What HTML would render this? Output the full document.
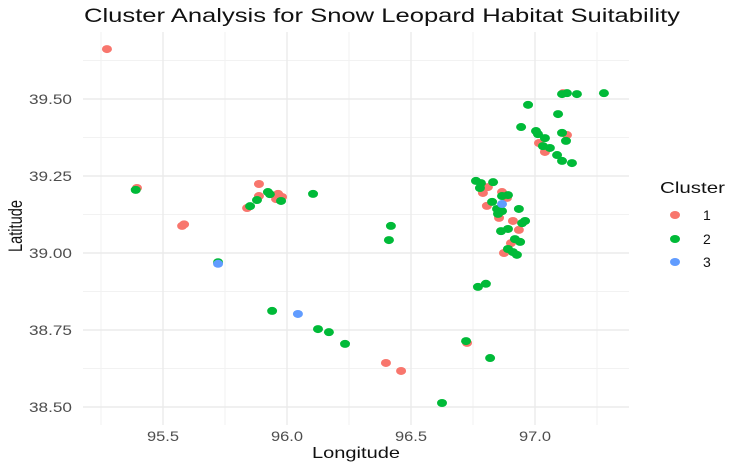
<!DOCTYPE html>
<html><head><meta charset="utf-8"><style>
body{margin:0;background:#fff;}
svg{display:block;font-family:"Liberation Sans",sans-serif;}
</style></head><body>
<svg id="chart" width="730" height="465">
<text x="84" y="22" font-size="19" fill="#111" textLength="596" lengthAdjust="spacingAndGlyphs">Cluster Analysis for Snow Leopard Habitat Suitability</text>
<g id="grid"></g>
<g id="points"></g>
<g id="axes"></g>
<text x="312" y="458" font-size="16" fill="#111" textLength="88" lengthAdjust="spacingAndGlyphs">Longitude</text>
<text transform="translate(22,252) rotate(-90)" font-size="19" fill="#111" textLength="52" lengthAdjust="spacingAndGlyphs">Latitude</text>
<g>
<text x="660" y="193" font-size="16" fill="#111" textLength="65" lengthAdjust="spacingAndGlyphs">Cluster</text>
<g><ellipse cx="675" cy="215" rx="5" ry="4" fill="#F8766D"/><text x="703" y="220" font-size="14" fill="#111">1</text></g>
<g><ellipse cx="675" cy="239" rx="5" ry="4" fill="#00BA38"/><text x="703" y="244" font-size="14" fill="#111">2</text></g>
<g><ellipse cx="675" cy="262" rx="5" ry="4" fill="#619CFF"/><text x="703" y="267" font-size="14" fill="#111">3</text></g>
</g>
</svg>
<script>
const xTicks=[95.5,96.0,96.5,97.0];
const xTickLabels=["95.5","96.0","96.5","97.0"];
const yTicks=[38.5,38.75,39.0,39.25,39.5];
const yTickLabels=["38.50","38.75","39.00","39.25","39.50"];
const xMinor=[95.25,95.75,96.25,96.75,97.25];
const yMinor=[38.625,38.875,39.125,39.375,39.625];
const cluster1Lon=[95.274,95.395,95.577,95.585,95.887,95.839,95.887,95.964,95.98,95.956,96.399,96.46,96.726,97.113,97.129,97.016,97.04,96.81,96.79,96.867,96.887,96.806,96.855,96.911,96.935,96.903,96.875];
const cluster1Lat=[39.662,39.211,39.088,39.093,39.224,39.146,39.185,39.192,39.182,39.175,38.643,38.617,38.708,39.519,39.383,39.357,39.328,39.214,39.195,39.198,39.179,39.153,39.114,39.104,39.075,39.032,39.0];
const cluster2Lon=[95.39,95.722,95.923,95.879,95.851,95.976,95.931,96.105,95.94,96.125,96.169,96.234,96.419,96.411,96.625,96.722,96.819,96.77,96.802,97.109,97.129,97.169,97.278,96.972,97.093,96.944,97.004,97.012,97.04,97.109,97.125,97.032,97.06,97.089,97.109,97.149,96.762,96.782,96.831,96.778,96.867,96.891,96.827,96.847,96.867,96.851,96.935,96.96,96.948,96.863,96.891,96.919,96.94,96.891,96.911,96.927];
const cluster2Lat=[39.205,38.97,39.198,39.172,39.152,39.169,39.191,39.192,38.812,38.753,38.743,38.705,39.088,39.042,38.513,38.714,38.659,38.89,38.9,39.516,39.519,39.516,39.519,39.481,39.451,39.409,39.396,39.386,39.373,39.39,39.364,39.347,39.341,39.318,39.299,39.292,39.234,39.227,39.23,39.211,39.185,39.188,39.166,39.143,39.136,39.127,39.143,39.104,39.097,39.071,39.078,39.045,39.036,39.013,39.003,38.994];
const cluster3Lon=[95.722,96.044,96.867];
const cluster3Lat=[38.965,38.802,39.159];
const NS="http://www.w3.org/2000/svg";
const PX0=83,PX1=629,PY0=32,PY1=425;
function xs(v){return 163+(v-95.5)*248;}
function ys(v){return 253-(v-39.0)*308;}
function mk(tag,attrs,parent){const e=document.createElementNS(NS,tag);for(const k in attrs)e.setAttribute(k,attrs[k]);parent.appendChild(e);return e;}
const grid=document.getElementById('grid'),axes=document.getElementById('axes'),pts=document.getElementById('points');
xMinor.forEach(v=>{const l=mk('line',{x1:xs(v),x2:xs(v),y1:PY0,y2:PY1,stroke:'#f2f2f2','stroke-width':1},grid);

});
yMinor.forEach(v=>{const l=mk('line',{x1:PX0,x2:PX1,y1:ys(v),y2:ys(v),stroke:'#f2f2f2','stroke-width':1},grid);

});
xTicks.forEach((v,i)=>{const l=mk('line',{x1:xs(v),x2:xs(v),y1:PY0,y2:PY1,stroke:'#ebebeb','stroke-width':1.4},grid);


const t=mk('text',{x:xs(v)-16,y:441,'font-size':14,fill:'#4d4d4d',textLength:32,lengthAdjust:'spacingAndGlyphs'},axes);t.textContent=xTickLabels[i];

});
yTicks.forEach((v,i)=>{const l=mk('line',{x1:PX0,x2:PX1,y1:ys(v),y2:ys(v),stroke:'#ebebeb','stroke-width':1.4},grid);


const t=mk('text',{x:29,y:ys(v)+5,'font-size':14,fill:'#4d4d4d',textLength:43,lengthAdjust:'spacingAndGlyphs'},axes);t.textContent=yTickLabels[i];

});
function draw(lons,lats,color,name){lons.forEach((v,i)=>{const c=mk('ellipse',{cx:xs(v),cy:ys(lats[i]),rx:5,ry:4,fill:color},pts);

});}
draw(cluster1Lon,cluster1Lat,'#F8766D','point-cluster-1');
draw(cluster2Lon,cluster2Lat,'#00BA38','point-cluster-2');
draw(cluster3Lon,cluster3Lat,'#619CFF','point-cluster-3');
</script>
</body></html>
